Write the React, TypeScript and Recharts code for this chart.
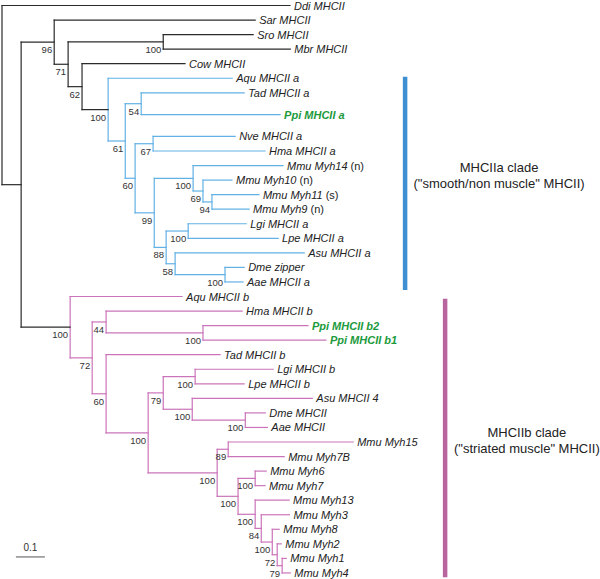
import { ComposedChart, XAxis, YAxis, Scatter, ReferenceLine } from "recharts"

// tips, top to bottom
const TAXA = [
  "Ddi MHCII", "Sar MHCII", "Sro MHCII", "Mbr MHCII", "Cow MHCII",
  "Aqu MHCII a", "Tad MHCII a", "Ppi MHCII a", "Nve MHCII a", "Hma MHCII a",
  "Mmu Myh14 (n)", "Mmu Myh10 (n)", "Mmu Myh11 (s)", "Mmu Myh9 (n)",
  "Lgi MHCII a", "Lpe MHCII a", "Asu MHCII a", "Dme zipper", "Aae MHCII a",
  "Aqu MHCII b", "Hma MHCII b", "Ppi MHCII b2", "Ppi MHCII b1", "Tad MHCII b",
  "Lgi MHCII b", "Lpe MHCII b", "Asu MHCII 4", "Dme MHCII", "Aae MHCII",
  "Mmu Myh15", "Mmu Myh7B", "Mmu Myh6", "Mmu Myh7", "Mmu Myh13", "Mmu Myh3",
  "Mmu Myh8", "Mmu Myh2", "Mmu Myh1", "Mmu Myh4",
]

// terminal branch lengths, same order as TAXA
const TIP_LENGTHS = [
  0.993, 0.693, 0.31, 0.438, 0.355,
  0.428, 0.355, 0.479, 0.283, 0.386,
  0.31, 0.1, 0.162, 0.128,
  0.2, 0.31, 0.445, 0.066, 0.062,
  0.386, 0.469, 0.362, 0.424, 0.393,
  0.269, 0.169, 0.414, 0.069, 0.076,
  0.431, 0.193, 0.038, 0.034, 0.117, 0.097,
  0.024, 0.014, 0.014, 0.028,
]

// internal nodes: id, children, branch length, bootstrap
const CLADES: [string, string[], number, number | null][] = [
  ["root", ["Ddi MHCII", "n1"], 0, null],
  ["n1", ["n2", "B"], 0.066, null],
  ["n2", ["Sar MHCII", "n3"], 0.114, 96],
  ["n3", ["nSM", "n4"], 0.048, 71],
  ["nSM", ["Sro MHCII", "Mbr MHCII"], 0.328, 100],
  ["n4", ["Cow MHCII", "A"], 0.048, 62],
  ["A", ["Aqu MHCII a", "A1"], 0.09, 100],
  ["A1", ["A_tp", "A2"], 0.059, 61],
  ["A_tp", ["Tad MHCII a", "Ppi MHCII a"], 0.055, 54],
  ["A2", ["A_nh", "A3"], 0.034, 60],
  ["A_nh", ["Nve MHCII a", "Hma MHCII a"], 0.062, 67],
  ["A3", ["A_myh", "A4"], 0.066, 99],
  ["A_myh", ["Mmu Myh14 (n)", "A_myh2"], 0.134, 100],
  ["A_myh2", ["Mmu Myh10 (n)", "A_myh3"], 0.034, 69],
  ["A_myh3", ["Mmu Myh11 (s)", "Mmu Myh9 (n)"], 0.031, 94],
  ["A4", ["A_ll", "A5"], 0.041, 88],
  ["A_ll", ["Lgi MHCII a", "Lpe MHCII a"], 0.076, 100],
  ["A5", ["Asu MHCII a", "A_da"], 0.031, 58],
  ["A_da", ["Dme zipper", "Aae MHCII a"], 0.172, 100],
  ["B", ["Aqu MHCII b", "B1"], 0.169, 100],
  ["B1", ["B2", "B3"], 0.076, 72],
  ["B2", ["Hma MHCII b", "B_ppi"], 0.048, 44],
  ["B_ppi", ["Ppi MHCII b2", "Ppi MHCII b1"], 0.334, 100],
  ["B3", ["Tad MHCII b", "B4"], 0.048, 60],
  ["B4", ["B5", "B_myh"], 0.145, 100],
  ["B5", ["B_ll", "B6"], 0.052, 79],
  ["B_ll", ["Lgi MHCII b", "Lpe MHCII b"], 0.11, 100],
  ["B6", ["Asu MHCII 4", "B_da"], 0.1, 100],
  ["B_da", ["Dme MHCII", "Aae MHCII"], 0.183, 100],
  ["B_myh", ["B_m15", "B_m1"], 0.238, 100],
  ["B_m15", ["Mmu Myh15", "Mmu Myh7B"], 0.038, 89],
  ["B_m1", ["B_m67", "B_m2"], 0.072, 100],
  ["B_m67", ["Mmu Myh6", "Mmu Myh7"], 0.059, 100],
  ["B_m2", ["Mmu Myh13", "B_m3"], 0.059, 100],
  ["B_m3", ["Mmu Myh3", "B_m4"], 0.021, 84],
  ["B_m4", ["Mmu Myh8", "B_m5"], 0.038, 100],
  ["B_m5", ["Mmu Myh2", "B_m6"], 0.017, 72],
  ["B_m6", ["Mmu Myh1", "Mmu Myh4"], 0.017, 79],
]

const HIGHLIGHT = ["Ppi MHCII a", "Ppi MHCII b2", "Ppi MHCII b1"]
const PADDED = ["Ppi MHCII a"]

const CLADE_NOTES = [
  { id: "A", first: "Aqu MHCII a", last: "Aae MHCII a", barX: 1.39, padTop: 0.1, padBottom: 0.55, textX: 1.714, textY: 11.1, title: "MHCIIa clade", sub: '("smooth/non muscle" MHCII)' },
  { id: "B", first: "Aqu MHCII b", last: "Mmu Myh4", barX: 1.528, padTop: -0.15, padBottom: 0.3, textX: 1.81, textY: 29.3, title: "MHCIIb clade", sub: '("striated muscle" MHCII)' },
]

const BLACK = "#2b2b2b"
const GREEN = "#1c9a3c"
const TREE_COLORS: Record<string, string> = { A: "#62b1e5", B: "#cb74b9" }
const BAR_COLORS: Record<string, string> = { A: "#3d8fd1", B: "#b8649f" }
const FONT = '"Liberation Sans", Arial, sans-serif'

const W = 600
const H = 579
const X_DOMAIN = [-2 / 290, (W - 2) / 290]
const ROW = 14.55
const Y0 = -5.5 / ROW
const Y_DOMAIN = [Y0, Y0 + H / ROW]

// --- layout ---
const cladeMap = new Map(CLADES.map(([id, kids, len, boot]) => [id, { kids, len, boot }]))
const tipLen = new Map(TAXA.map((t, i) => [t, TIP_LENGTHS[i]]))
const tipRow = new Map<string, number>()
let row = 0
TAXA.forEach((t) => {
  const pad = PADDED.includes(t)
  if (pad) row += 0.5
  tipRow.set(t, row)
  row += pad ? 1.5 : 1
})

type Seg = { x1: number; y1: number; x2: number; y2: number; color: string }
const segs: Seg[] = []
const tips: { x: number; y: number; name: string }[] = []
const boots: { x: number; y: number; value: number }[] = []

function walk(id: string, px: number, parentColor: string): number {
  const c = cladeMap.get(id)
  if (!c) {
    const x = px + (tipLen.get(id) as number)
    const y = tipRow.get(id) as number
    segs.push({ x1: px, y1: y, x2: x, y2: y, color: parentColor })
    tips.push({ x, y, name: id })
    return y
  }
  const x = px + c.len
  const color = TREE_COLORS[id] ?? parentColor
  const ys = c.kids.map((k) => walk(k, x, color))
  const lo = Math.min(...ys)
  const hi = Math.max(...ys)
  const y = (lo + hi) / 2
  segs.push({ x1: x, y1: lo, x2: x, y2: hi, color })
  if (c.len > 0) segs.push({ x1: px, y1: y, x2: x, y2: y, color: parentColor })
  if (c.boot != null) boots.push({ x, y, value: c.boot })
  return y
}
walk("root", 0, BLACK)

const notes = CLADE_NOTES.map((n) => ({ ...n, x: n.textX, y: n.textY }))

function TipLabel(props: any) {
  const { cx, cy, payload } = props
  const hl = HIGHLIGHT.includes(payload.name)
  const m = payload.name.match(/^(.*?)(\s\([a-z]\))?$/)
  return (
    <text x={cx + 4} y={cy + 4} fontSize={11} fontFamily={FONT} fontStyle="italic" fontWeight={hl ? "bold" : "normal"} fill={hl ? GREEN : "#222"}>
      {m[1]}
      {m[2] ? <tspan fontStyle="normal">{m[2]}</tspan> : null}
    </text>
  )
}

function BootLabel(props: any) {
  const { cx, cy, payload } = props
  return (
    <text x={cx - 2} y={cy + 11} textAnchor="end" fontSize={9.5} fontFamily={FONT} fill="#333">
      {payload.value}
    </text>
  )
}

function NoteLabel(props: any) {
  const { cx, cy, payload } = props
  return (
    <g fontSize={13} fontFamily={FONT} fill="#222" textAnchor="middle">
      <text x={cx} y={cy + 5}>{payload.title}</text>
      <text x={cx} y={cy + 21}>{payload.sub}</text>
    </g>
  )
}

function ScaleLabel(props: any) {
  const { viewBox } = props
  return (
    <text x={viewBox.x + viewBox.width / 2} y={viewBox.y - 6} textAnchor="middle" fontSize={10} fontFamily={FONT} fill="#333">
      0.1
    </text>
  )
}

export default function App() {
  return (
    <div style={{ position: "absolute", left: 0, top: 0, width: W, height: H, background: "#fff" }}>
      <ComposedChart width={W} height={H} margin={{ top: 0, right: 0, bottom: 0, left: 0 }}>
        <XAxis type="number" dataKey="x" domain={X_DOMAIN} hide allowDataOverflow />
        <YAxis type="number" dataKey="y" domain={Y_DOMAIN} reversed hide allowDataOverflow />
        {segs.map((s, i) => (
          <ReferenceLine
            key={i}
            segment={[{ x: s.x1, y: s.y1 }, { x: s.x2, y: s.y2 }]}
            stroke={s.color}
            strokeWidth={1.2}
            strokeLinecap="square"
          />
        ))}
        {CLADE_NOTES.map((n) => (
          <ReferenceLine
            key={n.id}
            segment={[
              { x: n.barX, y: (tipRow.get(n.first) as number) - n.padTop },
              { x: n.barX, y: (tipRow.get(n.last) as number) + n.padBottom },
            ]}
            stroke={BAR_COLORS[n.id]}
            strokeWidth={4.5}
          />
        ))}
        <ReferenceLine
          segment={[{ x: 0.048, y: 37.9 }, { x: 0.148, y: 37.9 }]}
          stroke="#555"
          strokeWidth={1}
          label={<ScaleLabel />}
        />
        <Scatter data={tips} shape={TipLabel} isAnimationActive={false} />
        <Scatter data={boots} shape={BootLabel} isAnimationActive={false} />
        <Scatter data={notes} shape={NoteLabel} isAnimationActive={false} />
      </ComposedChart>
    </div>
  )
}
